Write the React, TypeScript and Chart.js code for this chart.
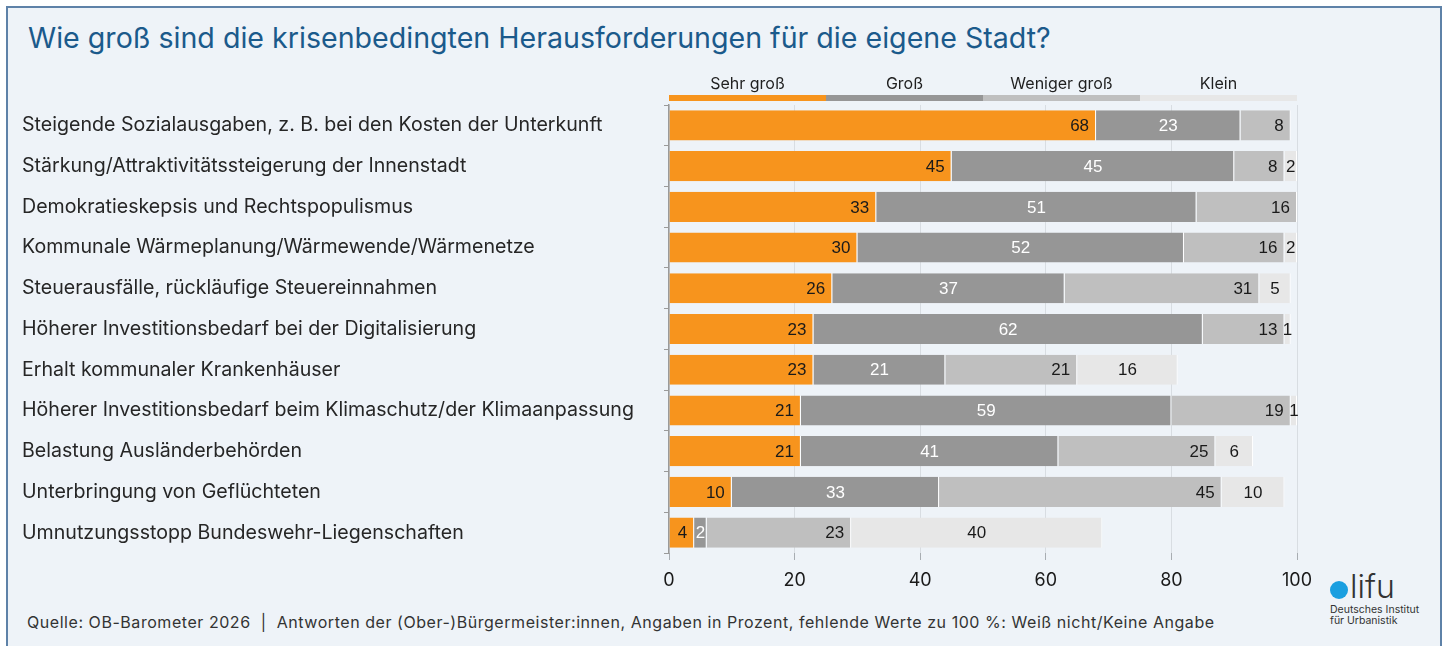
import React, { useEffect, useRef } from "react";
import { Chart, registerables } from "chart.js";

Chart.register(...registerables);

const categories = [
  "Steigende Sozialausgaben, z. B. bei den Kosten der Unterkunft",
  "Stärkung/Attraktivitätssteigerung der Innenstadt",
  "Demokratieskepsis und Rechtspopulismus",
  "Kommunale Wärmeplanung/Wärmewende/Wärmenetze",
  "Steuerausfälle, rückläufige Steuereinnahmen",
  "Höherer Investitionsbedarf bei der Digitalisierung",
  "Erhalt kommunaler Krankenhäuser",
  "Höherer Investitionsbedarf beim Klimaschutz/der Klimaanpassung",
  "Belastung Ausländerbehörden",
  "Unterbringung von Geflüchteten",
  "Umnutzungsstopp Bundeswehr-Liegenschaften",
];

const sehrGross = [68, 45, 33, 30, 26, 23, 23, 21, 21, 10, 4];
const gross = [23, 45, 51, 52, 37, 62, 21, 59, 41, 33, 2];
const wenigerGross = [8, 8, 16, 16, 31, 13, 21, 19, 25, 45, 23];
const klein = [0, 2, 0, 2, 5, 1, 16, 1, 6, 10, 40];

const seriesNames = ["Sehr groß", "Groß", "Weniger groß", "Klein"];
const xTickValues = [0, 20, 40, 60, 80, 100];

const COLORS = ["#F7941D", "#969696", "#BFBFBF", "#E7E7E7"];
const LABEL_COLORS = ["#1a1a1a", "#ffffff", "#1a1a1a", "#1a1a1a"];
const LABEL_ALIGN = ["end", "center", "end", "center"];

const TITLE = "Wie groß sind die krisenbedingten Herausforderungen für die eigene Stadt?";
const SOURCE =
  "Quelle: OB-Barometer 2026  |  Antworten der (Ober-)Bürgermeister:innen, Angaben in Prozent, fehlende Werte zu 100 %: Weiß nicht/Keine Angabe";

const legendPlugin = {
  id: "topLegend",
  afterDraw(chart: any) {
    const { ctx, scales } = chart;
    const x = scales.x;
    const step = 100 / seriesNames.length;
    ctx.save();
    seriesNames.forEach((name, i) => {
      const x0 = x.getPixelForValue(i * step);
      const x1 = x.getPixelForValue((i + 1) * step);
      ctx.fillStyle = COLORS[i];
      ctx.fillRect(x0, 95, x1 - x0, 6);
      ctx.fillStyle = "#1f1f1f";
      ctx.font = "16px Inter, 'Noto Sans', sans-serif";
      ctx.textAlign = "center";
      ctx.textBaseline = "middle";
      ctx.fillText(name, (x0 + x1) / 2, 84);
    });
    ctx.restore();
  },
};

const valueLabelPlugin = {
  id: "valueLabels",
  afterDatasetsDraw(chart: any) {
    const { ctx } = chart;
    ctx.save();
    ctx.font = "17px 'Liberation Sans', Arial, sans-serif";
    ctx.textBaseline = "middle";
    chart.data.datasets.forEach((ds: any, i: number) => {
      const meta = chart.getDatasetMeta(i);
      meta.data.forEach((bar: any, j: number) => {
        const v = ds.data[j];
        if (!v) return;
        const p = bar.getProps(["x", "y", "base"], true);
        const txt = String(v);
        const w = ctx.measureText(txt).width;
        const left = Math.min(p.x, p.base);
        const right = Math.max(p.x, p.base);
        ctx.fillStyle = LABEL_COLORS[i];
        if (LABEL_ALIGN[i] === "end" && right - left > w + 12) {
          ctx.textAlign = "right";
          ctx.fillText(txt, right - 7, p.y + 1);
        } else {
          ctx.textAlign = "center";
          ctx.fillText(txt, (left + right) / 2, p.y + 1);
        }
      });
    });
    ctx.restore();
  },
};

function BarChart() {
  const ref = useRef<HTMLCanvasElement | null>(null);
  useEffect(() => {
    if (!ref.current) return;
    const series = [sehrGross, gross, wenigerGross, klein];
    const chart = new Chart(ref.current, {
      type: "bar",
      data: {
        labels: categories,
        datasets: series.map((d, i) => ({
          label: seriesNames[i],
          data: d,
          backgroundColor: COLORS[i],
          borderColor: "#ffffff",
          borderWidth: { top: 0, bottom: 0, left: 0, right: 1 },
          borderSkipped: false,
          barPercentage: 0.74,
          categoryPercentage: 1,
        })),
      },
      options: {
        indexAxis: "y",
        responsive: false,
        animation: false,
        devicePixelRatio: 1,
        layout: { padding: { left: 22, right: 151, top: 105, bottom: 53 } },
        plugins: {
          legend: { display: false },
          tooltip: { enabled: false },
          title: { display: false },
        },
        scales: {
          x: {
            stacked: true,
            min: 0,
            max: 100,
            afterBuildTicks(scale: any) {
              scale.ticks = xTickValues.map((v) => ({ value: v }));
            },
            afterFit(scale: any) {
              scale.height = 40;
            },
            border: { display: false },
            grid: {
              color: "#D8DDE2",
              lineWidth: 1,
              drawTicks: true,
              tickLength: 7,
              tickColor: "#A8ADB2",
            },
            ticks: {
              color: "#1a1a1a",
              padding: 10,
              font: { family: "Inter, 'Noto Sans', sans-serif", size: 18 },
            },
          },
          y: {
            stacked: true,
            afterFit(scale: any) {
              scale.width = 647;
            },
            border: { display: true, color: "#9A9A9A", width: 1.5 },
            grid: {
              drawOnChartArea: false,
              drawTicks: true,
              tickLength: 5,
              color: "#9A9A9A",
              offset: true,
            },
            ticks: {
              crossAlign: "far",
              color: "#262626",
              font: { family: "Inter, 'Noto Sans', sans-serif", size: 19.6 },
            },
          },
        },
      },
      plugins: [legendPlugin, valueLabelPlugin],
    } as any);
    return () => chart.destroy();
  }, []);
  return (
    <canvas
      ref={ref}
      width={1448}
      height={646}
      style={{ position: "absolute", left: 0, top: 0, width: 1448, height: 646 }}
    />
  );
}

export default function App() {
  return (
    <div
      style={{
        position: "fixed",
        left: 0,
        top: 0,
        width: 1448,
        height: 646,
        background: "#ffffff",
        overflow: "hidden",
        fontFamily: "Inter, 'Noto Sans', sans-serif",
      }}
    >
      <div
        style={{
          position: "absolute",
          left: 6,
          top: 6,
          width: 1432,
          height: 700,
          background: "#EEF3F8",
          border: "2px solid #5E82A8",
        }}
      />
      <div
        style={{
          position: "absolute",
          left: 28,
          top: 18,
          fontSize: 28.6,
          color: "#1B5A8B",
          whiteSpace: "nowrap",
          lineHeight: "40px",
        }}
      >
        {TITLE}
      </div>
      <div
        style={{
          position: "absolute",
          left: 27,
          top: 611,
          fontSize: 16,
          letterSpacing: 0.55,
          color: "#333333",
          whiteSpace: "pre",
          lineHeight: "22px",
        }}
      >
        {SOURCE}
      </div>
      <div
        style={{
          position: "absolute",
          left: 1330,
          top: 581,
          width: 18,
          height: 18,
          borderRadius: "50%",
          background: "#1A9FE0",
        }}
      />
      <div
        style={{
          position: "absolute",
          left: 1350,
          top: 567,
          fontSize: 32,
          fontWeight: 300,
          color: "#333333",
          lineHeight: "40px",
        }}
      >
        lifu
      </div>
      <div
        style={{
          position: "absolute",
          left: 1330,
          top: 604,
          fontSize: 10.5,
          color: "#333333",
          lineHeight: "11px",
          whiteSpace: "nowrap",
        }}
      >
        Deutsches Institut
        <br />
        für Urbanistik
      </div>
      <BarChart />
    </div>
  );
}
